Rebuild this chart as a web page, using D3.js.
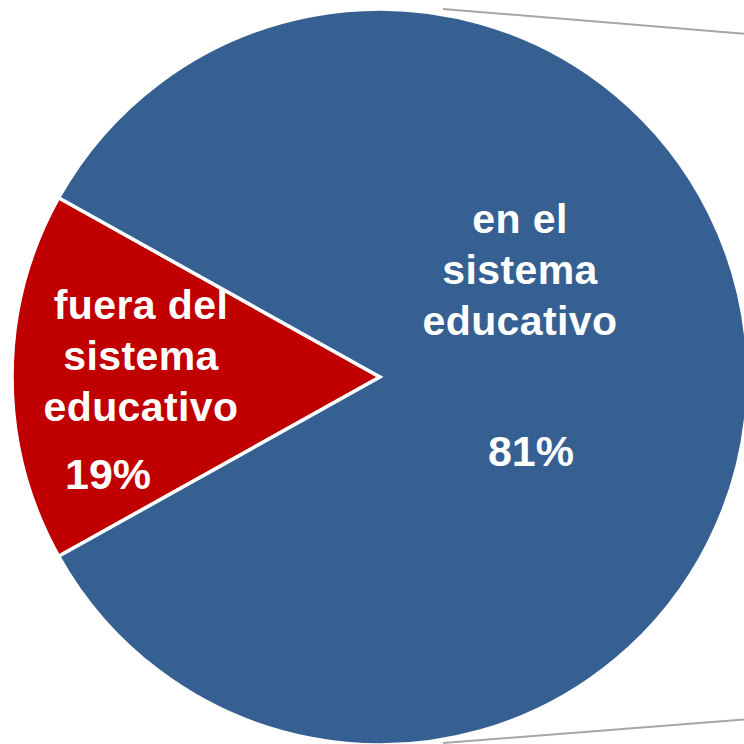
<!DOCTYPE html>
<html>
<head>
<meta charset="utf-8">
<script src="https://cdn.jsdelivr.net/npm/d3@7"></script>
<style>
  html, body { margin: 0; padding: 0; background: #fff; }
  svg { display: block; }
</style>
</head>
<body>
<div id="chart"></div>
<script>
'use strict';

let WIDTH = 744;
let HEIGHT = 744;
let CX = 380;
let CY = 377;
let RADIUS = 368;

// slices (share of the drawn wedge) and their printed labels
let categories = ['fuera del sistema educativo', 'en el sistema educativo'];
let shares = [16.2, 83.8];
let pctLabels = ['19%', '81%'];
let labelLines = [['fuera del', 'sistema', 'educativo'], ['en el', 'sistema', 'educativo']];
let colors = ['#C00000', '#376092'];

// where each label block sits, relative to the pie centre
let labelPos = [
    { x: -239, y: -58, pctX: -272, pctY: 112 },
    { x: 140, y: -144, pctX: 151, pctY: 89 },
];

let svg = d3.select('#chart')
    .append('svg')
    .attr('width', WIDTH)
    .attr('height', HEIGHT);

// connector lines toward the (cropped) secondary chart
let connectors = [
    [CX + 63, CY - 368, CX + 560, CY - 327],
    [CX + 63, CY + 366, CX + 560, CY + 327],
];
svg.selectAll('.connector')
    .data(connectors)
    .enter()
    .append('line')
    .attr('x1', d => d[0])
    .attr('y1', d => d[1])
    .attr('x2', d => d[2])
    .attr('y2', d => d[3])
    .attr('stroke', '#a6a6a6')
    .attr('stroke-width', 2);

let half = (shares[0] / d3.sum(shares)) * Math.PI;
let start = 1.5 * Math.PI - half;

let pie = d3.pie()
    .sort(null)
    .startAngle(start)
    .endAngle(start + 2 * Math.PI)
    .value(d => d);

let arc = d3.arc()
    .innerRadius(0)
    .outerRadius(RADIUS);

let g = svg.append('g')
    .attr('transform', 'translate(' + CX + ',' + CY + ')');

g.selectAll('.slice')
    .data(pie(shares))
    .enter()
    .append('path')
    .attr('class', 'slice')
    .attr('d', arc)
    .attr('fill', (d, i) => colors[i])
    .attr('stroke', '#fff')
    .attr('stroke-width', 3.5)
    .attr('stroke-linejoin', 'miter');

let labels = g.selectAll('.lbl')
    .data(categories)
    .enter()
    .append('g')
    .attr('class', 'lbl');

labels.append('text')
    .attr('x', (d, i) => labelPos[i].x)
    .attr('y', (d, i) => labelPos[i].y)
    .attr('text-anchor', 'middle')
    .attr('fill', '#fff')
    .style('font-family', '"Liberation Sans", Arial, sans-serif')
    .style('font-weight', 'bold')
    .style('font-size', '41px')
    .style('letter-spacing', '0.4px')
    .each(function(d, i) {
        d3.select(this).selectAll('tspan')
            .data(labelLines[i])
            .enter()
            .append('tspan')
            .attr('x', labelPos[i].x)
            .attr('dy', (t, j) => j === 0 ? 0 : 51)
            .text(t => t);
    });

labels.append('text')
    .attr('x', (d, i) => labelPos[i].pctX)
    .attr('y', (d, i) => labelPos[i].pctY)
    .attr('text-anchor', 'middle')
    .attr('fill', '#fff')
    .style('font-family', '"Liberation Sans", Arial, sans-serif')
    .style('font-weight', 'bold')
    .style('font-size', '43px')
    .text((d, i) => pctLabels[i]);
</script>
</body>
</html>
